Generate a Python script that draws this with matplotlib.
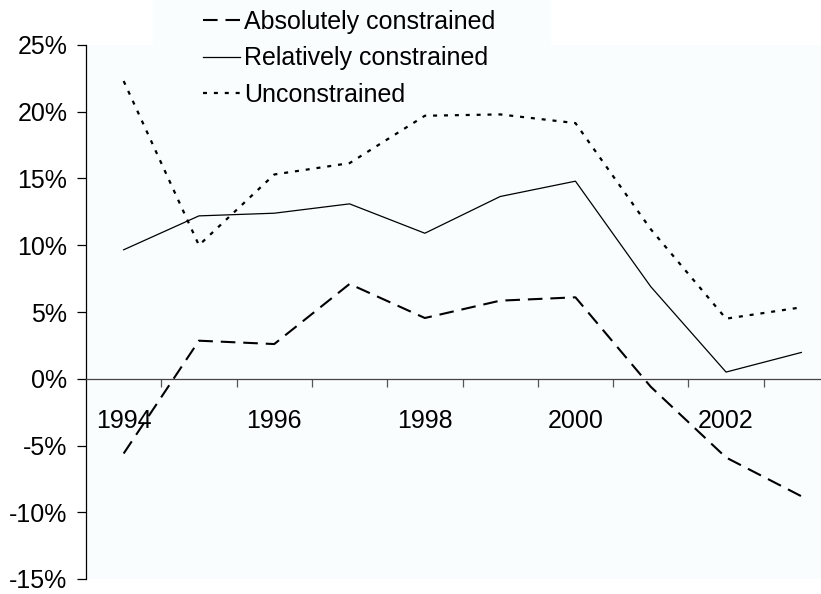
import matplotlib
matplotlib.use("Agg")
import matplotlib.pyplot as plt
from matplotlib.patches import Rectangle

years = ["1994", "1995", "1996", "1997", "1998", "1999", "2000", "2001", "2002", "2003"]
absolutely = [-5.6, 2.85, 2.6, 7.1, 4.55, 5.85, 6.1, -0.6, -5.9, -8.8]
relatively = [9.66, 12.2, 12.4, 13.1, 10.9, 13.65, 14.8, 6.9, 0.5, 1.97]
unconstrained = [22.3, 10.0, 15.3, 16.15, 19.7, 19.8, 19.15, 11.2, 4.5, 5.35]
y_ticks = [-15, -10, -5, 0, 5, 10, 15, 20, 25]

plt.rcParams["font.family"] = ["Liberation Sans", "DejaVu Sans"]
tint = "#fafdfd"

fig = plt.figure(figsize=(8.21, 5.94), dpi=100)
ax = fig.add_axes([86 / 821, 15 / 594, 753 / 821, 534 / 594])
ax.set_facecolor(tint)
# the legend box pokes out above the plot area
fig.patches.append(Rectangle((153 / 821, 1 - 45 / 594), 397 / 821, 45 / 594,
                             transform=fig.transFigure, color=tint, zorder=-1))

x = list(range(len(years)))
ax.plot(x, absolutely, color="black", lw=1.5, dashes=(7, 3.8), label="Absolutely constrained")
ax.plot(x, relatively, color="black", lw=0.9, label="Relatively constrained")
ax.plot(x, unconstrained, color="black", lw=1.6, dashes=(1.8, 3.1), label="Unconstrained")

ax.set_xlim(-0.5, len(years) - 0.5)
ax.set_ylim(-15, 25)

ax.set_yticks(y_ticks)
ax.set_yticklabels([f"{v}%" for v in y_ticks])
ax.tick_params(axis="y", direction="out", length=6.5, width=0.9, pad=7, labelsize=18)

ax.spines["top"].set_visible(False)
ax.spines["right"].set_visible(False)
ax.spines["left"].set_linewidth(0.9)
ax.spines["bottom"].set_position(("data", 0))
ax.spines["bottom"].set_color("#444444")
ax.spines["bottom"].set_linewidth(0.9)

# tick marks between the categories, labels under every other year
ax.set_xticks([i + 0.5 for i in x[:-1]])
ax.set_xticklabels([])
ax.set_xticks(x, minor=True)
ax.set_xticklabels([y if i % 2 == 0 else "" for i, y in enumerate(years)], minor=True)
ax.tick_params(axis="x", which="major", direction="out", length=5.8, width=0.9, color="#555555")
ax.tick_params(axis="x", which="minor", length=0, pad=22, labelsize=18)

ax.legend(loc="center left", bbox_to_anchor=(203 / 821, 1 - 58.5 / 594),
          bbox_transform=fig.transFigure, frameon=False, fontsize=18,
          handlelength=1.48, handletextpad=0.16, labelspacing=0.5,
          borderpad=0, borderaxespad=0)

fig.savefig("out.png", dpi=100)
